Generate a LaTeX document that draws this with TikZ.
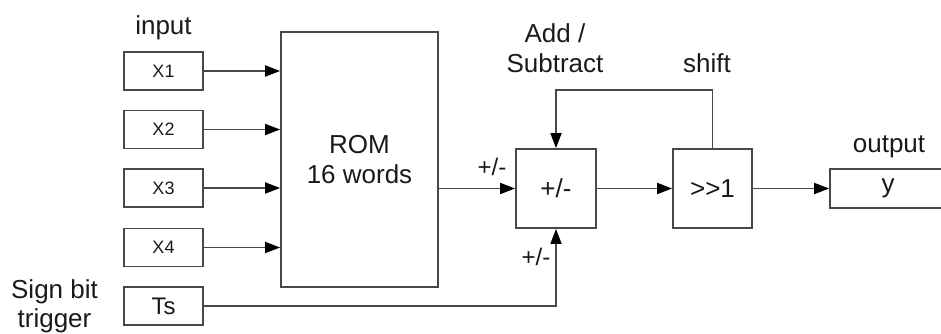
\documentclass[tikz,border=0pt]{standalone}
\usepackage{fontspec}
\setmainfont{Liberation Sans}
\usepackage{tikz}
\usetikzlibrary{arrows.meta}

\begin{document}
\begin{tikzpicture}[x=1pt,y=-1pt,
  blockBox/.style={draw=lineGray, line width=1.8pt, inner sep=0pt, text=textDark},
  inBox/.style={blockBox, minimum width=79pt, minimum height=38pt, font=\fontsize{18}{21}\selectfont},
  bigText/.style={font=\fontsize{26}{30}\selectfont, text=textDark, align=center, inner sep=0pt},
  sigLine/.style={draw=lineGray, line width=1.8pt},
  sigArrow/.style={sigLine, -{Triangle[length=15pt,width=11pt,color=black]}}
]

% Colori
\definecolor{lineGray}{HTML}{484848}
\definecolor{textDark}{HTML}{1A1A1A}

% Cornice
\useasboundingbox (0,0) rectangle (941,334);
\clip (0,0) rectangle (941,334);

% Ingressi
\node[bigText, anchor=base] (lblIn) at (163.5,35) {input};
\node[inBox] (xa) at (163.5,71) {X1};
\node[inBox] (xb) at (163.5,129.5) {X2};
\node[inBox] (xc) at (163.5,188) {X3};
\node[inBox] (xd) at (163.5,247.5) {X4};
\node[inBox, font=\fontsize{24}{26}\selectfont] (ts) at (163.5,306) {Ts};
\node[bigText, anchor=base] (lblSign) at (54.5,298) {Sign bit};
\node[bigText, anchor=base] (lblTrig) at (54.5,327) {trigger};

% Blocchi
\node[blockBox, bigText, draw=lineGray, minimum width=157pt, minimum height=255pt] (rom) at (359.5,159.5) {ROM\\16 words};
\node[blockBox, bigText, draw=lineGray, minimum width=80pt, minimum height=79pt] (add) at (556,188.5) {+/-};
\node[blockBox, bigText, draw=lineGray, minimum width=79pt, minimum height=79pt] (shift) at (712.5,188.5) {>{}>1};
\node[blockBox, bigText, draw=lineGray, minimum width=116pt, minimum height=39pt] (out) at (888,188.5) {y};

% Etichette
\node[bigText, anchor=base] (lblAdd) at (555,43) {Add /};
\node[bigText, anchor=base] (lblSub) at (555,73) {Subtract};
\node[bigText, anchor=base] (lblShift) at (707,73) {shift};
\node[bigText, anchor=base] (lblOut) at (889,152) {output};
\node[bigText, anchor=base, font=\fontsize{24}{26}\selectfont] (lblPmA) at (492,175) {+/-};
\node[bigText, anchor=base, font=\fontsize{24}{26}\selectfont] (lblPmB) at (536,265) {+/-};

% Collegamenti
\foreach \n in {xa,xb,xc,xd}
  \draw[sigArrow] (\n.east) -- (\n.east -| rom.west);
\draw[sigArrow] (add.west -| rom.east) -- (add.west);
\draw[sigArrow] (ts.east) -| (add.south);
\draw[sigArrow] (add.east) -- (shift.west);
\draw[sigArrow] (shift.north) -- ++(0,-58) -| (add.north);
\draw[sigArrow] (shift.east) -- (out.west);

\end{tikzpicture}
\end{document}
